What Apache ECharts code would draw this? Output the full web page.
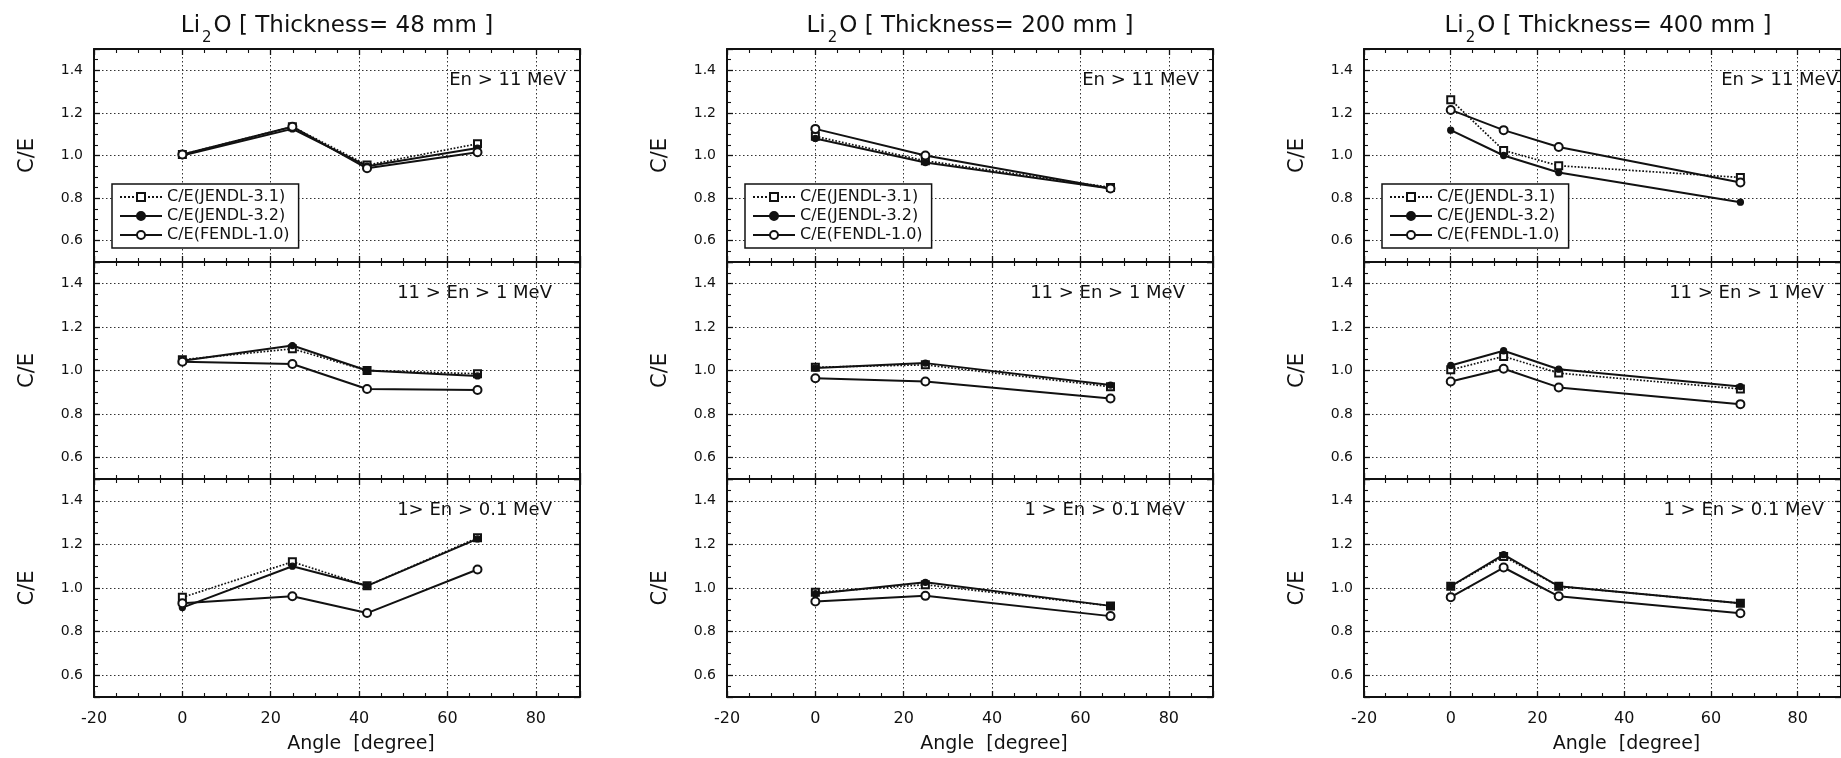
<!DOCTYPE html>
<html>
<head>
<meta charset="utf-8">
<script src="https://cdn.jsdelivr.net/npm/echarts@6/dist/echarts.min.js"></script>
<style>
  html, body { margin: 0; padding: 0; background: #ffffff; }
  #chart { width: 1841px; height: 758px; }
</style>
</head>
<body>
<div id="chart"></div>
<script>
// C/E ratios of neutron spectra behind Li2O slabs, per detector angle and energy band.

// Slab thicknesses (mm), one column each
const thicknesses = ['48', '200', '400'];

// Energy-band captions for the three rows of each column
const bands48 = ['En > 11 MeV', '11 > En > 1 MeV', '1> En > 0.1 MeV'];
const bands200 = ['En > 11 MeV', '11 > En > 1 MeV', '1 > En > 0.1 MeV'];
const bands400 = ['En > 11 MeV', '11 > En > 1 MeV', '1 > En > 0.1 MeV'];

// Detector angles (degree)
const angles48 = [0, 24.9, 41.8, 66.8];
const angles200 = [0, 24.9, 66.8];
const angles400 = [0, 12.2, 24.9, 66.8];

// Library names
const libraries = ['C/E(JENDL-3.1)', 'C/E(JENDL-3.2)', 'C/E(FENDL-1.0)'];

// C/E values, one row per energy band (high, middle, low)
const jendl31_48 = [
  [1.005, 1.135, 0.955, 1.055],
  [1.05, 1.10, 1.00, 0.985],
  [0.957, 1.12, 1.01, 1.23]
];
const jendl32_48 = [
  [1.00, 1.125, 0.95, 1.035],
  [1.045, 1.115, 1.00, 0.975],
  [0.91, 1.10, 1.01, 1.225]
];
const fendl10_48 = [
  [1.005, 1.135, 0.94, 1.015],
  [1.04, 1.03, 0.915, 0.91],
  [0.93, 0.962, 0.885, 1.085]
];

const jendl31_200 = [
  [1.09, 0.975, 0.85],
  [1.015, 1.026, 0.925],
  [0.98, 1.015, 0.918]
];
const jendl32_200 = [
  [1.08, 0.967, 0.845],
  [1.012, 1.034, 0.933],
  [0.974, 1.026, 0.918]
];
const fendl10_200 = [
  [1.125, 1.0, 0.845],
  [0.964, 0.949, 0.871],
  [0.938, 0.964, 0.871]
];

const jendl31_400 = [
  [1.262, 1.024, 0.952, 0.897],
  [1.003, 1.065, 0.988, 0.915],
  [1.008, 1.145, 1.008, 0.93]
];
const jendl32_400 = [
  [1.119, 1.0, 0.92, 0.781],
  [1.023, 1.091, 1.006, 0.926],
  [1.008, 1.153, 1.008, 0.93]
];
const fendl10_400 = [
  [1.214, 1.119, 1.04, 0.873],
  [0.949, 1.008, 0.922, 0.845],
  [0.958, 1.094, 0.962, 0.884]
];

// Axis tick labels
const xTicks = [-20, 0, 20, 40, 60, 80];
const yTicks = [0.6, 0.8, 1.0, 1.2, 1.4];

const columns = [
  { thick: thicknesses[0], angles: angles48, bands: bands48, sets: [jendl31_48, jendl32_48, fendl10_48] },
  { thick: thicknesses[1], angles: angles200, bands: bands200, sets: [jendl31_200, jendl32_200, fendl10_200] },
  { thick: thicknesses[2], angles: angles400, bands: bands400, sets: [jendl31_400, jendl32_400, fendl10_400] }
];

// Page layout (pixels)
const colLeft = [94, 727, 1364];
const colWidth = [486, 486, 488];
const rowTop = [49, 262, 479];
const rowHeight = [213, 217, 218];

const FONT = 'DejaVu Sans';
const INK = '#111111';

const seriesStyle = [
  { symbol: 'emptyRect', symbolSize: 7, lineType: 'dotted', lineWidth: 1.7 },
  { symbol: 'circle', symbolSize: 6, lineType: 'solid', lineWidth: 2 },
  { symbol: 'emptyCircle', symbolSize: 8, lineType: 'solid', lineWidth: 2 }
];

const grids = [], xBottom = [], xTop = [], yLeft = [], yRight = [];
const series = [], legends = [], graphics = [];

const gridLine = { show: true, lineStyle: { color: '#333', width: 1, type: [1.5, 2.5] } };
const tickIn = { show: true, inside: true, length: 6, lineStyle: { color: INK, width: 1.3 } };
const minorIn = { show: true, splitNumber: 4, length: 4, lineStyle: { color: INK, width: 1.1 } };
const frame = { show: true, onZero: false, lineStyle: { color: INK, width: 2 } };

columns.forEach((col, c) => {
  for (let r = 0; r < 3; r++) {
    const g = grids.length;
    grids.push({ left: colLeft[c], top: rowTop[r], width: colWidth[c], height: rowHeight[r], containLabel: false });

    const xBase = { type: 'value', gridIndex: g, min: xTicks[0], max: 90, interval: 20 };
    xBottom.push(Object.assign({}, xBase, {
      position: 'bottom',
      axisLine: frame, axisTick: tickIn, minorTick: minorIn, splitLine: gridLine,
      axisLabel: {
        show: r === 2, showMaxLabel: false, margin: 14,
        fontFamily: FONT, fontSize: 16, color: INK,
        formatter: v => (xTicks.indexOf(v) >= 0 ? String(v) : '')
      },
      name: r === 2 ? 'Angle  [degree]' : '',
      nameLocation: 'middle', nameGap: 38,
      nameTextStyle: { fontFamily: FONT, fontSize: 19, color: INK, padding: [0, 0, 0, 48] }
    }));
    xTop.push(Object.assign({}, xBase, {
      position: 'top',
      axisLine: frame, axisTick: tickIn, minorTick: minorIn,
      splitLine: { show: false }, axisLabel: { show: false }
    }));

    const yBase = { type: 'value', gridIndex: g, min: 0.5, max: 1.5, splitNumber: 5 };
    yLeft.push(Object.assign({}, yBase, {
      position: 'left',
      axisLine: frame, axisTick: tickIn, minorTick: minorIn, splitLine: gridLine,
      axisLabel: {
        showMinLabel: false, showMaxLabel: false, margin: 11,
        fontFamily: FONT, fontSize: 14, color: INK,
        formatter: v => (yTicks.some(t => Math.abs(t - v) < 1e-6) ? v.toFixed(1) : '')
      },
      name: 'C/E', nameLocation: 'middle', nameGap: 56,
      nameTextStyle: { fontFamily: FONT, fontSize: 21, color: INK }
    }));
    yRight.push(Object.assign({}, yBase, {
      position: 'right',
      axisLine: frame, axisTick: tickIn, minorTick: minorIn,
      splitLine: { show: false }, axisLabel: { show: false }
    }));

    col.sets.forEach((set, k) => {
      const st = seriesStyle[k];
      series.push({
        type: 'line',
        name: libraries[k],
        xAxisIndex: g,
        yAxisIndex: g,
        data: col.angles.map((a, i) => [a, set[r][i]]),
        symbol: st.symbol,
        symbolSize: st.symbolSize,
        showAllSymbol: true,
        lineStyle: { color: INK, width: st.lineWidth, type: st.lineType },
        itemStyle: { color: INK, borderColor: INK, borderWidth: 1.3 },
        emphasis: { disabled: true },
        animation: false,
        z: 3 + k
      });
    });

    // Energy-band caption in the upper right of each panel
    graphics.push({
      type: 'text',
      x: colLeft[c] + colWidth[c] - (r === 0 ? 14 : 28),
      y: rowTop[r] + 31,
      style: {
        text: col.bands[r],
        align: 'right', textAlign: 'right',
        verticalAlign: 'middle', textVerticalAlign: 'middle',
        font: '18px "' + FONT + '"', fill: INK
      },
      z: 50
    });
  }

  // Column heading with subscript
  graphics.push({
    type: 'text',
    x: colLeft[c] + colWidth[c] / 2,
    y: 26,
    style: {
      text: '{m|Li}{s|2}{m|O [ Thickness= ' + col.thick + ' mm ]}',
      align: 'center', textAlign: 'center',
      verticalAlign: 'middle', textVerticalAlign: 'middle',
      rich: {
        m: { fontFamily: FONT, fontSize: 23, fill: INK, color: INK },
        s: { fontFamily: FONT, fontSize: 15, fill: INK, color: INK, padding: [24, 2, 0, 2] }
      }
    },
    z: 50
  });

  legends.push({
    orient: 'vertical',
    left: colLeft[c] + 18,
    top: 184,
    data: libraries,
    selectedMode: false,
    backgroundColor: '#ffffff',
    borderColor: INK,
    borderWidth: 1.5,
    borderRadius: 0,
    padding: [5, 9, 5, 7],
    itemGap: 3,
    itemWidth: 42,
    itemHeight: 10,
    textStyle: { fontFamily: FONT, fontSize: 16, color: INK, padding: [0, 0, 0, 0] },
    z: 20
  });
});

const chart = echarts.init(document.getElementById('chart'), null, { renderer: 'canvas' });
chart.setOption({
  backgroundColor: '#ffffff',
  animation: false,
  grid: grids,
  xAxis: xBottom.concat(xTop),
  yAxis: yLeft.concat(yRight),
  legend: legends,
  series: series,
  graphic: graphics
});
</script>
</body>
</html>
